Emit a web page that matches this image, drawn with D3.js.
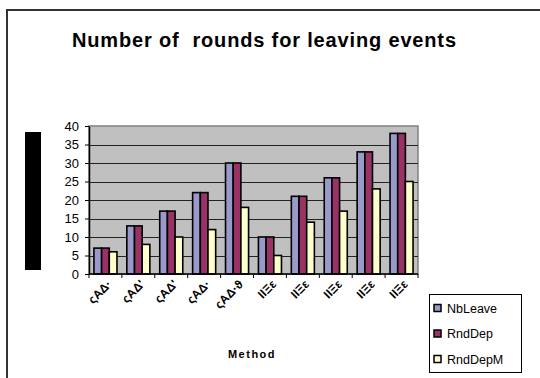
<!DOCTYPE html>
<html>
<head>
<meta charset="utf-8">
<script src="https://cdn.jsdelivr.net/npm/d3@7"></script>
<style>
  html, body { margin: 0; padding: 0; background: #fff; }
  svg { display: block; font-family: "Liberation Sans", Arial, sans-serif; }
</style>
</head>
<body>
<svg id="chart" width="540" height="378"></svg>
<script>
// Methods on the x axis
const categories = ["ςΑΔ·", "ςΑΔ'", "ςΑΔ'", "ςΑΔ·", "ςΑΔ·ϑ", "ΙΙΞε", "ΙΙΞε", "ΙΙΞε", "ΙΙΞε", "ΙΙΞε"];
// Series values (rounds)
const nbLeave  = [7, 13, 17, 22, 30, 10, 21, 26, 33, 38];
const rndDep   = [7, 13, 17, 22, 30, 10, 21, 26, 33, 38];
const rndDepM  = [6, 8, 10, 12, 18, 5, 14, 17, 23, 25];
const seriesNames = ["NbLeave", "RndDep", "RndDepM"];
const yTicks = [0, 5, 10, 15, 20, 25, 30, 35, 40];

const colors = ["#9999cc", "#993366", "#ffffcc"];
const series = [nbLeave, rndDep, rndDepM];

const svg = d3.select("#chart");

// Outer chart frame
svg.append("path")
  .attr("d", "M7,378 V10 H540")
  .attr("fill", "none")
  .attr("stroke", "#333")
  .attr("stroke-width", 2);

// Title
svg.append("text")
  .attr("x", 264).attr("y", 47)
  .attr("text-anchor", "middle")
  .attr("font-size", 20).attr("font-weight", "bold")
  .attr("fill", "#000")
  .attr("textLength", 384).attr("lengthAdjust", "spacing")
  .style("white-space", "pre")
  .text("Number of  rounds for leaving events");

const plot = { left: 89, right: 418, top: 126, bottom: 274 };

const x0 = d3.scaleBand()
  .domain(d3.range(categories.length))
  .range([plot.left, plot.right])
  .paddingInner(0.3).paddingOuter(0.15);
const x1 = d3.scaleBand()
  .domain(d3.range(series.length))
  .range([0, x0.bandwidth()]);
const y = d3.scaleLinear().domain([0, 40]).range([plot.bottom, plot.top]);

// Plot background
svg.append("rect")
  .attr("x", plot.left).attr("y", plot.top)
  .attr("width", plot.right - plot.left).attr("height", plot.bottom - plot.top)
  .attr("fill", "#c0c0c0")
  .attr("stroke", "#808080").attr("stroke-width", 1.5);

// Gridlines
svg.append("g").selectAll("line")
  .data(yTicks.filter(d => d > 0 && d < 40))
  .join("line")
  .attr("x1", plot.left).attr("x2", plot.right)
  .attr("y1", d => Math.round(y(d)) + 0.5).attr("y2", d => Math.round(y(d)) + 0.5)
  .attr("stroke", "#222").attr("stroke-width", 1.2);

// Bars
const groups = svg.append("g").selectAll("g")
  .data(categories.map((c, i) => i))
  .join("g")
  .attr("transform", i => `translate(${x0(i)},0)`);
groups.selectAll("rect")
  .data(i => series.map((s, k) => ({ k, v: s[i] })))
  .join("rect")
  .attr("x", d => x1(d.k))
  .attr("width", x1.bandwidth())
  .attr("y", d => y(d.v))
  .attr("height", d => y(0) - y(d.v))
  .attr("fill", d => colors[d.k])
  .attr("stroke", "#000").attr("stroke-width", 1.6);

// Y axis
const yAxis = svg.append("g")
  .attr("transform", `translate(${plot.left},0)`)
  .call(d3.axisLeft(y).tickValues(yTicks).tickSize(4).tickPadding(6).tickSizeOuter(0));
yAxis.select(".domain").attr("stroke", "#000").attr("stroke-width", 1.5);
yAxis.selectAll(".tick line").attr("stroke", "#000");
yAxis.selectAll("text").attr("font-size", 13).attr("fill", "#000")
  .attr("font-family", "Liberation Sans, Arial, sans-serif");

// X axis with ticks between groups
const xAxisG = svg.append("g");
xAxisG.append("line")
  .attr("x1", plot.left).attr("x2", plot.right)
  .attr("y1", plot.bottom).attr("y2", plot.bottom)
  .attr("stroke", "#000").attr("stroke-width", 1.5);
xAxisG.selectAll("line.tk")
  .data(d3.range(categories.length + 1))
  .join("line").attr("class", "tk")
  .attr("x1", i => plot.left + i * (plot.right - plot.left) / categories.length)
  .attr("x2", i => plot.left + i * (plot.right - plot.left) / categories.length)
  .attr("y1", plot.bottom).attr("y2", plot.bottom + 4)
  .attr("stroke", "#000");

// Category labels, rotated
xAxisG.selectAll("text.cat")
  .data(categories)
  .join("text").attr("class", "cat")
  .attr("transform", (d, i) => `translate(${x0(i) + x0.bandwidth() / 2 + 7},285) rotate(-45)`)
  .attr("text-anchor", "end")
  .attr("font-size", 12).attr("font-weight", "bold")
  .attr("fill", "#000")
  .text(d => d);

// Y axis title block
svg.append("rect")
  .attr("x", 25).attr("y", 132).attr("width", 16).attr("height", 138)
  .attr("fill", "#000");

// X axis title
svg.append("text")
  .attr("x", 252).attr("y", 358)
  .attr("text-anchor", "middle")
  .attr("font-size", 11).attr("font-weight", "bold")
  .attr("letter-spacing", 1.5)
  .text("Method");

// Legend
const legend = svg.append("g");
legend.append("rect")
  .attr("x", 429.5).attr("y", 294.5).attr("width", 92).attr("height", 78)
  .attr("fill", "#fff").attr("stroke", "#000").attr("stroke-width", 1);
const items = legend.selectAll("g.item")
  .data(seriesNames)
  .join("g").attr("class", "item")
  .attr("transform", (d, i) => `translate(0,${308 + i * 25.5})`);
items.append("rect")
  .attr("x", 434).attr("y", -3.5).attr("width", 7).attr("height", 7)
  .attr("fill", (d, i) => colors[i]).attr("stroke", "#000").attr("stroke-width", 1.5);
items.append("text")
  .attr("x", 447).attr("y", 4.5)
  .attr("font-size", 12.5).attr("fill", "#000")
  .text(d => d);
</script>
</body>
</html>
